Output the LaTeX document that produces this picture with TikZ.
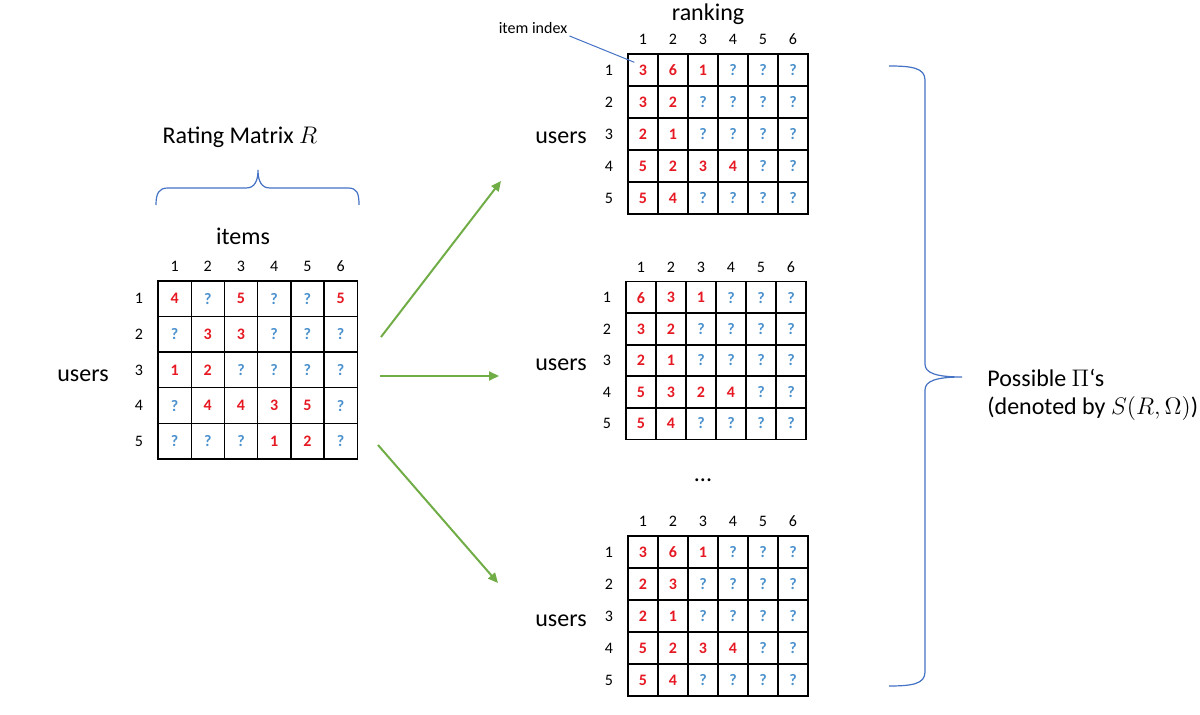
\documentclass[tikz,border=0pt]{standalone}
\usepackage{fontspec}
\setmainfont{Carlito}
\usetikzlibrary{arrows.meta, positioning}
\definecolor{hit}{RGB}{230,25,35}
\definecolor{miss}{RGB}{75,145,205}
\definecolor{bracecolor}{RGB}{68,114,196}
\definecolor{flowcolor}{RGB}{112,173,71}

\begin{document}
\begin{tikzpicture}[
    x=0.5pt, y=-0.5pt,
    cell/.style={draw, line width=0.7pt, minimum width=15pt, minimum height=16pt, inner sep=0pt, font=\footnotesize\bfseries},
    bigcell/.style={cell, minimum width=16.6pt, minimum height=17.8pt},
    idx/.style={font=\footnotesize, inner sep=1pt},
    heading/.style={font=\large, inner sep=1pt},
    curly/.style={draw=bracecolor, line width=0.6pt},
    pointer/.style={draw=bracecolor, line width=0.5pt},
    flow/.style={-{Triangle[length=5pt, width=4.5pt]}, draw=flowcolor, line width=1pt}
]
    \useasboundingbox (0,0) rectangle (1200,715);

    % Rating matrix
    \foreach \vals [count=\row] in {
        {4/hit,?/miss,5/hit,?/miss,?/miss,5/hit},
        {?/miss,3/hit,3/hit,?/miss,?/miss,?/miss},
        {1/hit,2/hit,?/miss,?/miss,?/miss,?/miss},
        {?/miss,4/hit,4/hit,3/hit,5/hit,?/miss},
        {?/miss,?/miss,?/miss,1/hit,2/hit,?/miss}}
        \foreach \v/\k [count=\col] in \vals
            \node[bigcell, text=\k] (L-\row-\col) at ({158+33.2*(\col-0.5)}, {281+35.6*(\row-0.5)}) {\v};

    % Rankings
    \foreach \vals [count=\row] in {
        {3/hit,6/hit,1/hit,?/miss,?/miss,?/miss},
        {3/hit,2/hit,?/miss,?/miss,?/miss,?/miss},
        {2/hit,1/hit,?/miss,?/miss,?/miss,?/miss},
        {5/hit,2/hit,3/hit,4/hit,?/miss,?/miss},
        {5/hit,4/hit,?/miss,?/miss,?/miss,?/miss}}
        \foreach \v/\k [count=\col] in \vals
            \node[cell, text=\k] (T-\row-\col) at ({628+30*(\col-0.5)}, {54+32*(\row-0.5)}) {\v};

    \foreach \vals [count=\row] in {
        {6/hit,3/hit,1/hit,?/miss,?/miss,?/miss},
        {3/hit,2/hit,?/miss,?/miss,?/miss,?/miss},
        {2/hit,1/hit,?/miss,?/miss,?/miss,?/miss},
        {5/hit,3/hit,2/hit,4/hit,?/miss,?/miss},
        {5/hit,4/hit,?/miss,?/miss,?/miss,?/miss}}
        \foreach \v/\k [count=\col] in \vals
            \node[cell, text=\k] (M-\row-\col) at ({626+30*(\col-0.5)}, {282+31.4*(\row-0.5)}) {\v};

    \foreach \vals [count=\row] in {
        {3/hit,6/hit,1/hit,?/miss,?/miss,?/miss},
        {2/hit,3/hit,?/miss,?/miss,?/miss,?/miss},
        {2/hit,1/hit,?/miss,?/miss,?/miss,?/miss},
        {5/hit,2/hit,3/hit,4/hit,?/miss,?/miss},
        {5/hit,4/hit,?/miss,?/miss,?/miss,?/miss}}
        \foreach \v/\k [count=\col] in \vals
            \node[cell, text=\k] (B-\row-\col) at ({628+30*(\col-0.5)}, {536+32*(\row-0.5)}) {\v};

    % Indices
    \foreach \m in {L,T,M,B} {
        \foreach \col in {1,...,6}
            \node[idx, above=3pt of \m-1-\col] (\m-h\col) {\col};
        \foreach \row in {1,...,5}
            \node[idx, left=6pt of \m-\row-1] (\m-v\row) {\row};
    }

    % Labels
    \node[heading] (rtitle) at (240,137) {Rating Matrix $R$};
    \node[heading] (items) at (243,236) {items};
    \node[heading] (L-users) at (83,376) {users};
    \node[heading] (ranking) at (708,14) {ranking};
    \node[heading] (T-users) at (561,138) {users};
    \node[heading] (M-users) at (561,365) {users};
    \node[heading] (B-users) at (561,621) {users};
    \node[heading] (dots) at (703,480) {...};
    \node[heading, anchor=west, align=left] (possible) at (985,395) {Possible $\Pi$‘s\\(denoted by $S(R,\Omega)$)};

    % Item index pointer
    \node[idx] (iidx) at (533,28) {item index};
    \draw[pointer] (iidx.south east) -- ([shift={(7,9)}]T-1-1.north west);

    % Braces
    \draw[curly] (156,205) .. controls (156,193) and (159,188) .. (168,188) -- (246,188)
        .. controls (254,188) and (258,182) .. (258,170)
        .. controls (258,182) and (262,188) .. (270,188) -- (348,188)
        .. controls (357,188) and (359,193) .. (359,205);
    \draw[curly] (889,66) .. controls (912,66) and (925,68) .. (925,80) -- (925,364)
        .. controls (925,373) and (936,377) .. (962,377)
        .. controls (936,377) and (925,381) .. (925,390) -- (925,672)
        .. controls (925,684) and (912,686) .. (889,686);

    % Arrows
    \coordinate (up-s) at (381,337);
    \coordinate (up-e) at (501,181);
    \coordinate (mid-s) at (380,376);
    \coordinate (mid-e) at (499,376);
    \coordinate (low-s) at (378,445);
    \coordinate (low-e) at (498,583);
    \draw[flow] (up-s) -- (up-e);
    \draw[flow] (mid-s) -- (mid-e);
    \draw[flow] (low-s) -- (low-e);
\end{tikzpicture}
\end{document}
